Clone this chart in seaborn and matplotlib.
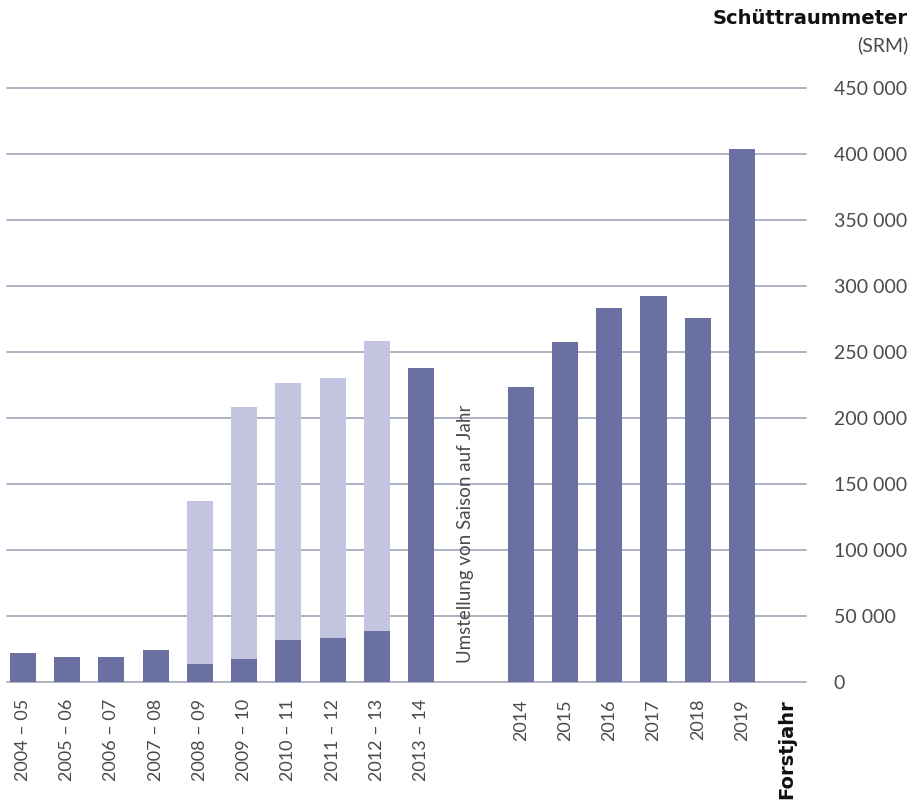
import matplotlib
matplotlib.use("Agg")
import matplotlib.pyplot as plt
import seaborn as sns
import pandas as pd
import numpy as np

# ---- data ----
seasons = ["2004 – 05", "2005 – 06", "2006 – 07", "2007 – 08", "2008 – 09",
           "2009 – 10", "2010 – 11", "2011 – 12", "2012 – 13", "2013 – 14"]
season_dark = [22200, 19200, 19200, 24500, 13900, 17600, 32000, 33500, 38800, 238000]
season_total = [None, None, None, None, 137300, 208500, 226600, 230400, 258400, None]
years = ["2014", "2015", "2016", "2017", "2018", "2019"]
year_values = [223800, 257900, 283400, 292500, 275800, 403800]
end_label = "Forstjahr"
gap_note = "Umstellung von Saison auf Jahr"
y_title = "Schüttraummeter"
y_unit = "(SRM)"
y_ticks = [0, 50000, 100000, 150000, 200000, 250000, 300000, 350000, 400000, 450000]

# ---- style ----
dark = "#6a70a1"
light = "#c3c5e0"
gridc = "#a3a3ba"
textc = "#4a4a4a"
sns.set_theme(style="white")
plt.rcParams["font.family"] = ["Lato", "DejaVu Sans"]

# positions (layout)
season_pos = list(np.arange(len(seasons), dtype=float))
gap_pos = len(seasons)
year_start = gap_pos + 1.25
year_pos = [year_start + k for k in range(len(years))]
end_pos = year_pos[-1] + 1.0

df_dark = pd.DataFrame({"x": season_pos + year_pos,
                        "v": season_dark + year_values})
tot = [(p, v) for p, v in zip(season_pos, season_total) if v is not None]
df_light = pd.DataFrame({"x": [p for p, _ in tot], "v": [v for _, v in tot]})

fig = plt.figure(figsize=(9.13, 8.08), dpi=100)
ax = fig.add_axes([0.008, 0.1556, 0.8745, 0.7356])

bw = 0.588
sns.barplot(data=df_light, x="x", y="v", native_scale=True, color=light,
            saturation=1, width=bw, errorbar=None, ax=ax, zorder=2,
            linewidth=0, edgecolor="none")
sns.barplot(data=df_dark, x="x", y="v", native_scale=True, color=dark,
            saturation=1, width=bw, errorbar=None, ax=ax, zorder=3,
            linewidth=0, edgecolor="none")

ax.set_xlim(-0.354, 17.69)
ax.set_ylim(0, 450000)
for t in y_ticks:
    ax.axhline(t, color=gridc, lw=1.2, zorder=1, clip_on=False)

for s in ax.spines.values():
    s.set_visible(False)

ax.yaxis.tick_right()
ax.set_yticks(y_ticks)
ax.set_yticklabels([f"{t:,}".replace(",", " ") for t in y_ticks],
                   fontsize=14, color=textc, fontweight="normal")
ax.tick_params(axis="y", length=0, pad=20)

ax.set_xticks(season_pos + year_pos + [end_pos])
labels = ax.set_xticklabels(seasons + years + [end_label], rotation=90,
                            fontsize=13, color=textc, fontweight="normal",
                            va="top", ha="center")
labels[-1].set_fontweight("bold")
labels[-1].set_fontsize(14)
labels[-1].set_family(["DejaVu Sans"])
labels[-1].set_color("#111111")
ax.tick_params(axis="x", length=0, pad=12)
ax.set_xlabel("")
ax.set_ylabel("")

ax.text(gap_pos, 14600, gap_note, rotation=90, ha="center", va="bottom",
        fontsize=13.5, color=textc)

fig.text(908 / 913, 1 - 18 / 808, y_title, ha="right", va="center",
         fontsize=14, fontweight="bold", family=["DejaVu Sans"], color="#111111")
fig.text(908 / 913, 1 - 45 / 808, y_unit, ha="right", va="center",
         fontsize=14, color=textc)

fig.savefig("out.png", dpi=100)
